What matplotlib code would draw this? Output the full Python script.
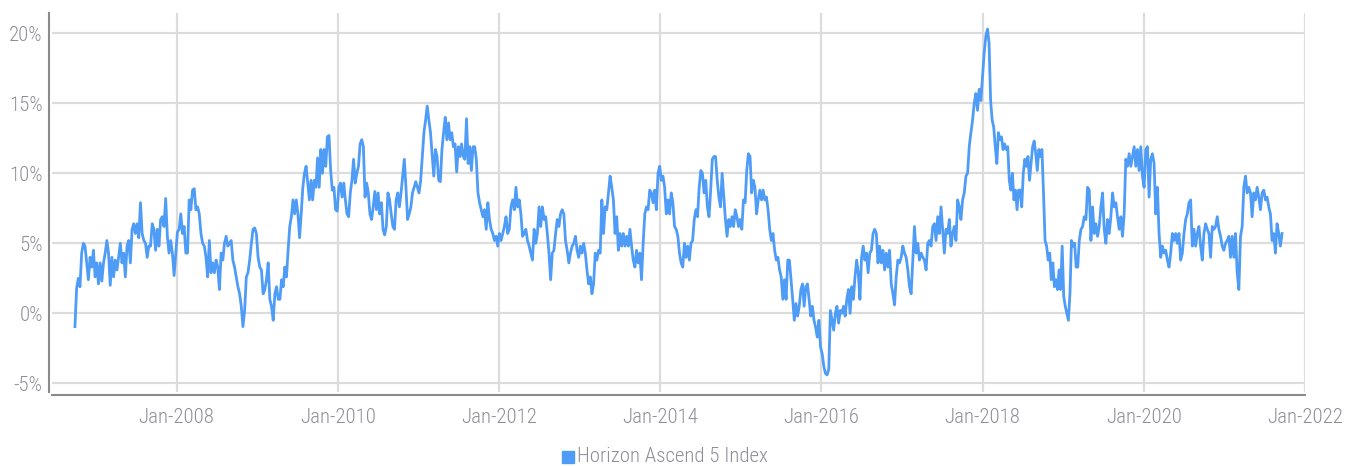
import matplotlib
matplotlib.use("Agg")
import matplotlib.pyplot as plt
import matplotlib.dates as mdates
from matplotlib.ticker import FuncFormatter
from matplotlib.lines import Line2D
from matplotlib import font_manager
import pandas as pd

# ---------------------------------------------------------------- data
series_name = "Horizon Ascend 5 Index"

# boundaries between the sampled blocks of the index history
block_edges = ["2006-09-27", "2009-04-13", "2011-10-05", "2014-03-29",
               "2016-09-21", "2018-01-23", "2019-03-15", "2021-09-19"]

# rolling return level (%), roughly weekly observations per block
vals_2006_2009 = [
    -0.95, 1.8, 2.5, 1.9, 4.3, 5.0, 4.8, 3.6, 2.4, 4.0, 3.3, 4.5, 2.6, 3.6, 2.1, 3.6,
    2.3, 3.6, 4.3, 5.2, 4.3, 2.0, 4.0, 2.6, 3.8, 3.1, 4.0, 5.0, 3.6, 4.3, 2.6, 4.8,
    5.2, 3.6, 6.0, 6.4, 5.7, 6.4, 5.4, 7.9, 5.7, 5.2, 5.0, 4.0, 4.8, 4.8, 6.4, 6.0,
    4.5, 6.0, 4.8, 6.7, 6.9, 6.2, 8.2, 5.5, 4.3, 5.2, 4.3, 2.7, 4.3, 5.8, 6.0, 7.1,
    5.7, 6.2, 4.3, 4.3, 8.1, 7.4, 8.8, 8.9, 7.4, 7.6, 7.1, 5.7, 5.0, 4.8, 4.0, 2.6,
    5.2, 2.9, 3.6, 2.9, 3.8, 3.3, 1.7, 4.3, 3.8, 5.0, 5.5, 4.8, 5.0, 5.2, 3.8, 3.3,
    2.6, 1.9, 1.4, 0.5, -0.95, 0.2, 2.6, 2.9, 3.8, 5.0, 6.0, 6.1, 5.7, 4.0, 3.3, 3.1,
    1.4, 1.7, 2.4, 3.6, 1.0, 0.5, -0.5, 1.4, 1.9, 1.0,
]
vals_2009_2011 = [
    1.0, 2.4, 1.9, 3.3, 2.6, 4.5, 6.2, 6.9, 8.1, 7.1, 8.1, 7.1, 5.4, 7.1, 9.0, 10.0,
    10.5, 9.3, 8.1, 9.5, 8.1, 9.5, 9.0, 11.1, 9.0, 11.7, 10.0, 11.7, 10.5, 12.6, 12.7,
    10.2, 8.8, 9.0, 7.4, 7.3, 9.0, 9.3, 8.3, 9.3, 8.1, 7.1, 6.9, 8.6, 9.5, 11.0, 9.3,
    10.0, 10.5, 12.1, 12.4, 11.9, 8.3, 9.3, 8.6, 7.1, 6.7, 7.6, 8.7, 7.4, 8.6, 7.1,
    7.9, 6.0, 5.6, 6.2, 8.6, 8.1, 7.1, 6.2, 6.0, 8.1, 8.6, 7.6, 8.6, 9.8, 11.0, 9.0,
    6.7, 7.1, 7.6, 8.6, 9.0, 9.4, 9.0, 8.6, 9.5, 11.2, 12.9, 13.8, 14.8, 13.8, 12.9,
    11.4, 9.8, 11.7, 11.2, 9.5, 9.4, 11.7, 12.9, 14.0, 12.4, 13.6, 12.4, 12.9, 11.9,
    12.1, 10.1, 11.9, 11.2, 12.1, 11.2, 11.0, 13.9, 10.7, 11.9, 10.2, 11.9, 11.9,
    11.0, 8.6,
]
vals_2011_2014 = [
    7.9, 7.4, 6.9, 7.4, 6.0, 7.9, 6.7, 6.0, 5.7, 5.2, 5.5, 4.8, 5.7, 5.2, 5.7, 6.2,
    6.9, 5.7, 6.0, 7.6, 8.1, 7.4, 9.0, 7.6, 8.1, 7.1, 5.5, 5.7, 6.0, 5.2, 4.8, 4.3,
    3.8, 6.0, 5.0, 5.7, 7.6, 6.2, 7.6, 6.7, 6.9, 5.7, 4.3, 2.4, 4.3, 4.5, 5.7, 6.7,
    6.2, 7.1, 7.4, 7.1, 5.2, 4.5, 3.6, 4.3, 4.8, 5.0, 5.5, 4.5, 4.0, 4.8, 4.3, 5.0,
    4.3, 3.1, 2.1, 2.6, 1.4, 2.1, 4.3, 3.8, 4.5, 4.3, 8.1, 5.7, 7.6, 7.4, 8.6, 9.8,
    9.0, 8.1, 5.7, 6.9, 4.5, 5.7, 4.8, 5.7, 4.8, 5.5, 4.8, 6.0, 4.8, 3.8, 3.3, 4.5,
    3.6, 4.3, 2.4, 5.0, 7.1, 7.6, 7.4, 8.8, 8.6, 7.9, 8.8, 7.4, 10.0, 10.5, 9.5, 9.8,
    9.0, 7.1, 8.1, 7.1, 8.6, 7.9, 6.2, 6.0, 5.5,
]
vals_2014_2016 = [
    4.3, 3.6, 3.3, 5.0, 4.0, 4.8, 3.8, 5.0, 5.2, 6.7, 7.4, 6.9, 9.0, 10.2, 10.0, 8.6,
    9.5, 7.6, 6.9, 8.8, 11.0, 11.2, 11.2, 9.5, 8.3, 7.6, 10.0, 8.3, 6.7, 5.5, 6.7,
    6.2, 6.9, 6.2, 7.4, 6.9, 6.2, 6.7, 6.0, 8.1, 7.9, 10.2, 11.4, 11.2, 8.6, 9.5, 9.0,
    7.1, 8.1, 8.8, 8.1, 8.8, 8.1, 8.3, 7.4, 6.0, 5.2, 5.7, 4.5, 3.8, 4.0, 3.1, 2.6,
    1.0, 2.4, 1.0, 3.8, 3.8, 2.4, 1.0, -0.5, 0.7, -0.2, 0.5, 1.7, 2.1, 0.5, 1.9, 2.1,
    1.0, -0.2, 0.5, -0.5, -1.0, -1.7, -0.5, -2.4, -2.9, -3.8, -4.3, -4.4, -4.0, 0.2,
    -0.5, -1.2, 0.0, 0.5, -0.7, 0.2, 0.0, 0.5, -0.2, 1.0, 1.7, 0.0, 1.9, 1.0, 2.6,
    3.8, 2.9, 1.0, 4.0, 4.8, 3.8, 4.3, 2.9, 4.3, 4.5, 5.7, 6.0, 5.7, 3.6,
]
vals_2016_2018 = [
    4.8, 3.6, 4.5, 3.1, 4.3, 3.3, 4.5, 2.1, 1.4, 0.6, 2.6, 3.8, 3.6, 4.0, 4.8, 4.3,
    4.0, 3.1, 1.9, 1.4, 3.8, 6.2, 4.3, 5.0, 3.8, 4.3, 4.0, 3.8, 3.1, 5.0, 5.2, 4.8,
    6.2, 6.4, 5.2, 6.9, 5.7, 7.6, 6.0, 4.3, 6.0, 5.7, 6.7, 4.8, 5.7, 6.2, 5.2, 8.1,
    7.6, 6.7, 8.1, 8.6, 9.8, 10.0, 11.9, 12.9, 13.8, 15.0, 15.7, 14.5, 16.0, 15.2,
    16.9, 18.6, 19.8,
]
vals_2018_2019 = [
    20.3, 19.3, 15.2, 13.8, 13.3, 11.9, 10.7, 12.9, 12.4, 12.6,
    11.7, 12.1, 11.7, 11.9, 9.5, 8.8, 10.0, 8.1, 8.8, 7.4, 8.8, 8.8, 7.6, 10.0, 11.0,
    10.5, 11.2, 9.5, 10.7, 11.9, 12.3, 11.4, 10.2, 11.7, 11.2, 11.7, 8.6, 5.2, 4.8,
    3.8, 4.3, 2.4, 3.6, 1.9, 2.4, 1.7, 3.1, 1.7, 4.8, 1.2, 0.5, 0.0, -0.5, 1.4, 5.2,
    4.8, 5.0, 3.3, 3.3,
]
vals_2019_2021 = [
    5.2, 6.0, 6.2, 6.9, 6.7, 9.0, 8.8, 5.2, 7.6, 5.7, 6.4, 5.5, 6.2, 7.6, 8.6, 6.0,
    5.0, 6.7, 5.7, 6.9, 8.6, 7.6, 7.9, 6.9, 6.0, 6.9, 5.5, 7.1, 11.0, 10.5, 11.4,
    10.5, 11.2, 11.9, 10.5, 11.7, 10.2, 11.9, 9.8, 9.0, 11.7, 11.9, 8.3, 11.0, 11.4,
    10.7, 7.1, 9.0, 5.7, 4.0, 4.8, 4.3, 4.5, 3.8, 3.3, 4.3, 5.7, 5.2, 5.7, 5.0, 5.7,
    3.8, 4.3, 5.7, 6.7, 7.1, 7.9, 8.1, 4.8, 6.0, 4.8, 5.7, 6.2, 4.8, 3.8, 5.7, 6.4,
    6.0, 5.7, 4.0, 6.2, 6.0, 6.2, 6.9, 6.0, 5.5, 4.8, 4.5, 5.0, 5.2, 5.5, 4.0, 5.5,
    4.0, 5.7, 2.9, 1.7, 5.5, 6.2, 9.0, 9.8, 8.6, 9.0, 8.6, 6.9, 8.6, 8.1, 9.0, 8.3,
    7.4, 8.6, 8.8, 8.1, 8.3, 7.6, 7.1, 5.2, 5.7, 4.3, 6.4, 5.7, 4.8, 5.7,
]

blocks = [vals_2006_2009, vals_2009_2011, vals_2011_2014, vals_2014_2016,
          vals_2016_2018, vals_2018_2019, vals_2019_2021]

tick_years = [2008, 2010, 2012, 2014, 2016, 2018, 2020, 2022]
y_ticks = [-5, 0, 5, 10, 15, 20]

# ---------------------------------------------------------------- build series
parts = []
for k, vals in enumerate(blocks):
    last = k == len(blocks) - 1
    n = len(vals) if last else len(vals) + 1
    d = pd.date_range(block_edges[k], block_edges[k + 1], periods=n)
    if not last:
        d = d[:-1]
    parts.append(pd.Series(vals, index=d))
series = pd.concat(parts)

# ---------------------------------------------------------------- fonts
def pick_font():
    prefs = [("Roboto Condensed", 300), ("Roboto Condensed", 400),
             ("Liberation Sans Narrow", 400)]
    fl = font_manager.fontManager.ttflist
    for name, w in prefs:
        for f in fl:
            if f.name == name and f.style == "normal" and f.weight == w:
                return font_manager.FontProperties(fname=f.fname)
    for f in fl:
        if f.name == "DejaVu Sans" and "Condensed" in f.fname and f.style == "normal" \
                and f.weight in (400, "normal"):
            return font_manager.FontProperties(fname=f.fname)
    return font_manager.FontProperties(family="Roboto")

fp = pick_font()
TXT = "#8e8e98"
LINE = "#4f9cf6"
GRID = "#dcdcdc"
SPINE = "#8a8a8a"

# ---------------------------------------------------------------- figure
W, H = 1359, 466
fig = plt.figure(figsize=(W / 100, H / 100), dpi=100)
ax = fig.add_axes([52 / W, 1 - 392 / H, (1305 - 52) / W, (392 - 13) / H])

ax.plot(series.index, series.values, color=LINE, lw=2.0, solid_joinstyle="round",
        zorder=3, label=series_name)

ax.set_xlim(pd.Timestamp("2006-06-15"), pd.Timestamp("2022-01-01"))
ax.set_ylim(-5.62, 21.45)

ax.set_xticks([pd.Timestamp(f"{y}-01-01") for y in tick_years])
ax.xaxis.set_major_formatter(mdates.DateFormatter("%b-%Y"))
ax.set_yticks(y_ticks)
ax.yaxis.set_major_formatter(FuncFormatter(lambda v, p: f"{v:.0f}%"))

ax.grid(True, color=GRID, lw=1.6, zorder=0)
ax.set_axisbelow(True)

for s in ("top", "right"):
    ax.spines[s].set_visible(False)
for s in ("left", "bottom"):
    ax.spines[s].set_color(SPINE)
    ax.spines[s].set_linewidth(1.5)
    ax.spines[s].set_position(("outward", 2.2))

ax.tick_params(axis="both", length=0, colors=TXT)
ax.tick_params(axis="x", pad=9.5)
ax.tick_params(axis="y", pad=4.5)
for lab in ax.get_xticklabels() + ax.get_yticklabels():
    lab.set_fontproperties(fp)
    lab.set_fontsize(15)
    lab.set_color(TXT)

handle = Line2D([], [], ls="none", marker="s", markersize=8, color=LINE)
leg = fig.legend([handle], [series_name], loc="center",
                 bbox_to_anchor=(666 / W, 1 - 456 / H), frameon=False,
                 handlelength=0.6, handletextpad=0.35, borderpad=0,
                 prop=fp)
for t in leg.get_texts():
    t.set_fontsize(15)
    t.set_color(TXT)

fig.savefig("out.png", dpi=100)
